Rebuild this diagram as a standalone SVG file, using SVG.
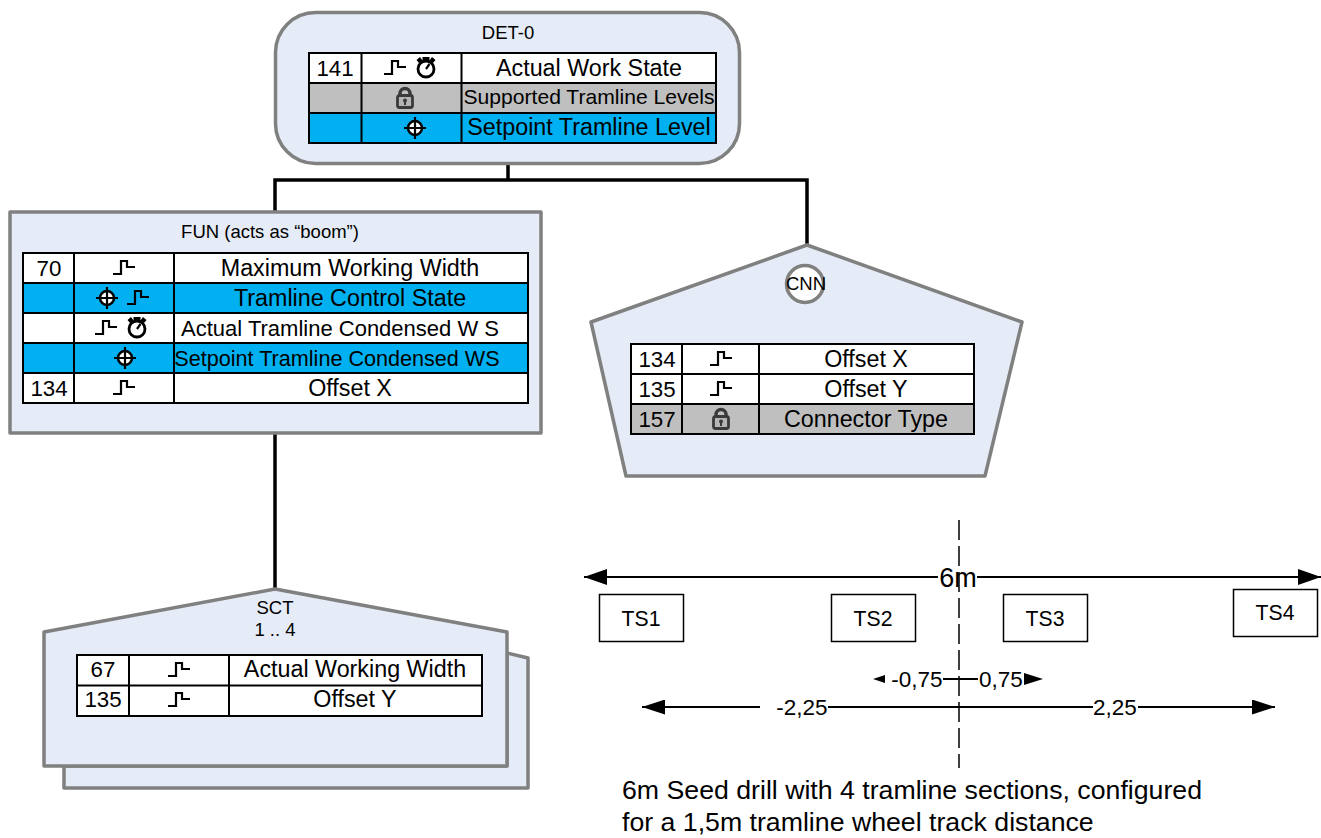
<svg xmlns="http://www.w3.org/2000/svg" width="1321" height="838" viewBox="0 0 1321 838">
<style>
text{font-family:"Liberation Sans",Arial,sans-serif;fill:#000;text-anchor:middle}
.n{fill:#e6ecf7;stroke:#808080;stroke-width:3.5;stroke-linejoin:round}
.l{font-size:18.5px}
.t{font-size:23.300px}
.k{font-size:22.300px}
.s{font-size:22.500px}
.e{font-size:21.200px}
.w{fill:#fff}.g{fill:#bfbfbf}.b{fill:#00b0f0}
.grid{stroke:#000;stroke-width:2;fill:none}
.c{stroke:#000;stroke-width:3.5;fill:none}
.d{stroke:#000;stroke-width:2;fill:none}
.ts{fill:#fff;stroke:#000;stroke-width:1.5}
.ic{fill:none;stroke:#000;stroke-width:2.200}
</style>
<defs>
<g id="step"><path class="ic" d="M-11 6H-3V-7H3V-1H11"/></g>
<g id="clock"><circle cx="0" cy="2" r="8" fill="none" stroke="#000" stroke-width="2.800"/><path class="ic" d="M0 2L3.500 -3"/><path d="M-3.500 -10H3.500V-6H-3.500ZM-9.500 -7L-6 -10L-3.500 -6.500L-7 -4ZM9.500 -7L6 -10L3.500 -6.500L7 -4Z"/></g>
<g id="lock"><rect x="-7.500" y="-2.500" width="15" height="12" rx="2" fill="#b5b5b5" stroke="#3a3a3a" stroke-width="2.800"/><path d="M-5 -2.500V-4.500A5 5 0 0 1 5 -4.500V-2.500" fill="none" stroke="#3a3a3a" stroke-width="3.500"/><circle cx="0" cy="2.500" r="2" fill="#3a3a3a"/><rect x="-1" y="2.500" width="2" height="4.500" fill="#3a3a3a"/></g>
<g id="target"><circle cx="0" cy="0" r="7" fill="#fff" stroke="#000" stroke-width="2.500"/><path d="M-11 0H11M0 -11V11" stroke="#000" stroke-width="2.200"/></g>
<marker id="ah" viewBox="0 0 10 10" refX="10" refY="5" markerWidth="23" markerHeight="16" markerUnits="userSpaceOnUse" orient="auto-start-reverse" preserveAspectRatio="none"><path d="M0 0L10 5L0 10Z" fill="#000"/></marker>
<marker id="am" viewBox="0 0 10 10" refX="10" refY="5" markerWidth="23" markerHeight="15" markerUnits="userSpaceOnUse" orient="auto-start-reverse" preserveAspectRatio="none"><path d="M0 0L10 5L0 10Z" fill="#000"/></marker>
</defs>

<g id="connectors">
<path class="c" d="M508 164V180M275 212V180H807V245"/>
<path class="c" d="M275 433V589"/>
</g>

<g id="node-det">
<rect class="n" x="275.500" y="12.500" width="464" height="151" rx="40"/>
<text class="l" x="508" y="39">DET-0</text>
<rect class="w" x="309" y="53" width="407" height="30"/><rect class="g" x="309" y="83" width="407" height="30"/><rect class="b" x="309" y="113" width="407" height="30"/>
<path class="grid" d="M309 53H716V143H309ZM309 83H716M309 113H716M361.500 53V143M461.500 53V143"/>
<text class="k" x="335" y="76">141</text>
<use href="#step" x="395" y="68"/><use href="#clock" x="426" y="67"/>
<text class="t" x="589" y="76">Actual Work State</text>
<use href="#lock" x="405" y="98"/>
<text x="589" y="104" font-size="21.100px">Supported Tramline Levels</text>
<use href="#target" x="415" y="128"/>
<text class="t" x="589" y="135">Setpoint Tramline Level</text>
</g>

<g id="node-fun">
<rect class="n" x="10" y="212" width="531" height="221"/>
<text class="l" x="270" y="238">FUN (acts as “boom”)</text>
<rect class="w" x="23" y="253" width="505" height="30"/><rect class="b" x="23" y="283" width="505" height="30"/><rect class="w" x="23" y="313" width="505" height="30"/><rect class="b" x="23" y="343" width="505" height="30"/><rect class="w" x="23" y="373" width="505" height="30"/>
<path class="grid" d="M23 253H528V403H23ZM23 283H528M23 313H528M23 343H528M23 373H528M74 253V403M174 253V403"/>
<text class="k" x="49" y="276">70</text>
<use href="#step" x="124" y="268"/>
<text class="t" x="350" y="276">Maximum Working Width</text>
<use href="#target" x="107" y="298"/><use href="#step" x="138" y="298"/>
<text class="t" x="350" y="306">Tramline Control State</text>
<use href="#step" x="106" y="328"/><use href="#clock" x="137" y="327"/>
<text x="340" y="336" font-size="22px">Actual Tramline Condensed W S</text>
<use href="#target" x="125" y="358"/>
<text x="337" y="366" font-size="21.600px">Setpoint Tramline Condensed WS</text>
<text class="k" x="49" y="396">134</text>
<use href="#step" x="124" y="388"/>
<text class="t" x="350" y="396">Offset X</text>
</g>

<g id="node-cnn">
<path class="n" d="M807 245L1022 322L985 476H626L591 322Z"/>
<circle cx="805" cy="284" r="18.500" fill="#fff" stroke="#808080" stroke-width="3.500"/>
<text class="l" x="806" y="290">CNN</text>
<rect class="w" x="631" y="344" width="343" height="60"/><rect class="g" x="631" y="404" width="343" height="30"/>
<path class="grid" d="M631 344H974V434H631ZM631 374H974M631 404H974M682 344V434M759 344V434"/>
<text class="k" x="657" y="367">134</text><use href="#step" x="721" y="359"/><text class="t" x="866" y="367">Offset X</text>
<text class="k" x="657" y="397">135</text><use href="#step" x="721" y="389"/><text class="t" x="866" y="397">Offset Y</text>
<text class="k" x="657" y="427">157</text><use href="#lock" x="721" y="419"/><text class="t" x="866" y="427">Connector Type</text>
</g>

<g id="node-sct">
<path class="n" d="M507 653L528 658V788H64V766H507Z"/>
<path class="n" d="M275 589L507 632V766H44V632Z"/>
<text class="l" x="275" y="614">SCT</text>
<text class="l" x="275" y="636">1 .. 4</text>
<rect class="w" x="77" y="655" width="405" height="61"/>
<path class="grid" d="M77 655H482V716H77ZM77 685.500H482M129 655V716M229 655V716"/>
<text class="k" x="103" y="677">67</text><use href="#step" x="179" y="670"/><text class="t" x="355" y="677">Actual Working Width</text>
<text class="k" x="103" y="707">135</text><use href="#step" x="179" y="700"/><text class="t" x="355" y="707">Offset Y</text>
</g>

<g id="dimensions">
<path d="M959 520V768" stroke="#000" stroke-width="1.500" stroke-dasharray="20 6" fill="none"/>
<path class="d" d="M584 577H938" marker-start="url(#ah)"/>
<path class="d" d="M977 577H1321" marker-end="url(#ah)"/>
<text x="958" y="587" font-size="27px">6m</text>
<path class="d" d="M943 679H978"/>
<path d="M873 679L885 675V683Z M1043 679L1024 673V685Z"/>
<text class="s" x="917" y="687">-0,75</text>
<text class="s" x="1001" y="687">0,75</text>
<path class="d" d="M642 707H760" marker-start="url(#am)"/>
<path class="d" d="M828 707H1093"/>
<path class="d" d="M1138 707H1275" marker-end="url(#am)"/>
<text class="s" x="802" y="715">-2,25</text>
<text class="s" x="1115" y="715">2,25</text>
</g>

<g id="node-ts1"><rect class="ts" x="599.500" y="594.500" width="84" height="47"/><text class="e" x="641" y="626">TS1</text></g>
<g id="node-ts2"><rect class="ts" x="831.500" y="594.500" width="84" height="47"/><text class="e" x="873" y="626">TS2</text></g>
<g id="node-ts3"><rect class="ts" x="1003.500" y="594.500" width="84" height="47"/><text class="e" x="1045" y="626">TS3</text></g>
<g id="node-ts4"><rect class="ts" x="1233.500" y="589.500" width="84" height="47"/><text class="e" x="1275" y="620">TS4</text></g>

<text x="622" y="799" font-size="26.700px" style="text-anchor:start">6m Seed drill with 4 tramline sections, configured</text>
<text x="622" y="831" font-size="26.700px" style="text-anchor:start">for a 1,5m tramline wheel track distance</text>
</svg>
